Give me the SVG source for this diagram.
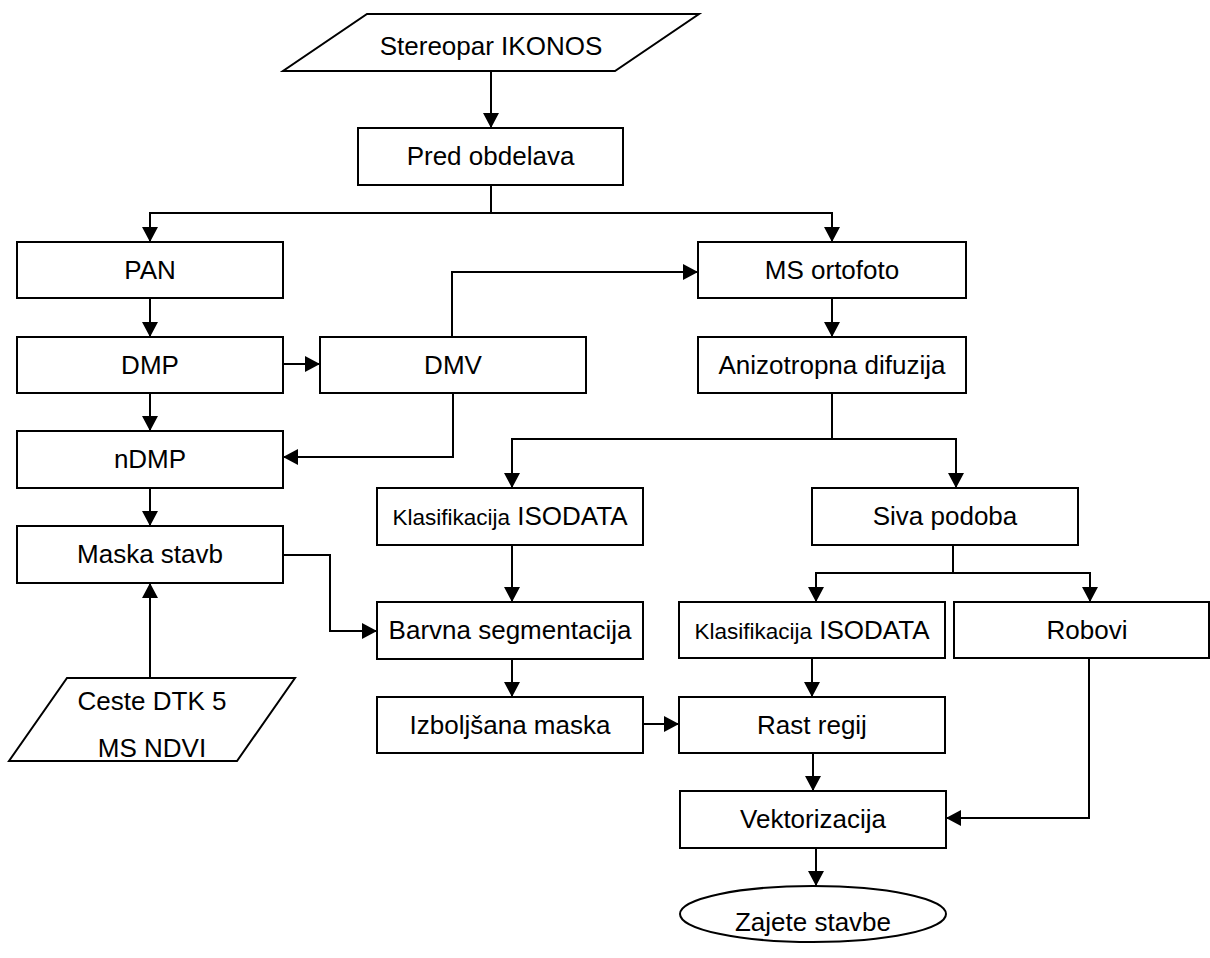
<svg xmlns="http://www.w3.org/2000/svg" width="1210" height="958" viewBox="0 0 1210 958">
<style>
.box{fill:#fff;stroke:#000;stroke-width:2}
.t{font-family:"Liberation Sans",Arial,sans-serif;font-size:26px;text-anchor:middle;fill:#000}
.s{font-size:22.5px}
.c{fill:none;stroke:#000;stroke-width:2}
</style>
<defs>
<marker id="ah" markerUnits="userSpaceOnUse" markerWidth="17" markerHeight="17" refX="15" refY="8" orient="auto">
<path d="M0,0 L15,8 L0,16 Z" fill="#000"/>
</marker>
</defs>
<rect width="1210" height="958" fill="#fff"/>
<g id="connectors">
<path class="c" marker-end="url(#ah)" d="M491,71 V128"/>
<path class="c" marker-end="url(#ah)" d="M491,185 V213 H150 V242"/>
<path class="c" marker-end="url(#ah)" d="M491,213 H832 V242"/>
<path class="c" marker-end="url(#ah)" d="M150,298 V337"/>
<path class="c" marker-end="url(#ah)" d="M150,393 V431"/>
<path class="c" marker-end="url(#ah)" d="M150,488 V526"/>
<path class="c" marker-end="url(#ah)" d="M283,364 H320"/>
<path class="c" marker-end="url(#ah)" d="M452,337 V272 H698"/>
<path class="c" marker-end="url(#ah)" d="M453,393 V457 H283"/>
<path class="c" marker-end="url(#ah)" d="M832,298 V337"/>
<path class="c" marker-end="url(#ah)" d="M832,393 V439 H512 V488"/>
<path class="c" marker-end="url(#ah)" d="M832,439 H956 V488"/>
<path class="c" marker-end="url(#ah)" d="M150,678 V583"/>
<path class="c" marker-end="url(#ah)" d="M283,555 H330 V631 H377"/>
<path class="c" marker-end="url(#ah)" d="M512,545 V602"/>
<path class="c" marker-end="url(#ah)" d="M512,659 V697"/>
<path class="c" marker-end="url(#ah)" d="M643,724 H679"/>
<path class="c" marker-end="url(#ah)" d="M953,545 V573 H816 V602"/>
<path class="c" marker-end="url(#ah)" d="M953,573 H1090 V602"/>
<path class="c" marker-end="url(#ah)" d="M812,658 V697"/>
<path class="c" marker-end="url(#ah)" d="M813,753 V791"/>
<path class="c" marker-end="url(#ah)" d="M1089,658 V818 H946"/>
<path class="c" marker-end="url(#ah)" d="M816,848 V886"/>
</g>
<g id="stereopar"><polygon class="box" points="367,14 699,14 615,71 283,71"/><text class="t" x="491" y="55">Stereopar IKONOS</text></g>
<g id="predobdelava"><rect class="box" x="358" y="128" width="265" height="57"/><text class="t" x="490.5" y="165">Pred obdelava</text></g>
<g id="pan"><rect class="box" x="17" y="242" width="266" height="56"/><text class="t" x="150" y="279">PAN</text></g>
<g id="dmp"><rect class="box" x="17" y="337" width="266" height="56"/><text class="t" x="150" y="374">DMP</text></g>
<g id="ndmp"><rect class="box" x="17" y="431" width="266" height="57"/><text class="t" x="150" y="468">nDMP</text></g>
<g id="maska"><rect class="box" x="17" y="526" width="266" height="57"/><text class="t" x="150" y="563">Maska stavb</text></g>
<g id="ceste"><polygon class="box" points="67,678 295,678 237,761 9,761"/><text class="t" x="152" y="710">Ceste DTK 5</text><text class="t" x="152" y="757">MS NDVI</text></g>
<g id="dmv"><rect class="box" x="320" y="337" width="266" height="56"/><text class="t" x="453" y="374">DMV</text></g>
<g id="msortofoto"><rect class="box" x="698" y="242" width="268" height="56"/><text class="t" x="832" y="279">MS ortofoto</text></g>
<g id="anizotropna"><rect class="box" x="698" y="337" width="268" height="56"/><text class="t" x="832" y="374">Anizotropna difuzija</text></g>
<g id="klas1"><rect class="box" x="377" y="488" width="266" height="57"/><text class="t" x="510" y="525"><tspan class="s">Klasifikacija</tspan> ISODATA</text></g>
<g id="barvna"><rect class="box" x="377" y="602" width="266" height="57"/><text class="t" x="510" y="639">Barvna segmentacija</text></g>
<g id="izboljsana"><rect class="box" x="377" y="697" width="266" height="56"/><text class="t" x="510" y="734">Izboljšana maska</text></g>
<g id="siva"><rect class="box" x="812" y="488" width="266" height="57"/><text class="t" x="945" y="525">Siva podoba</text></g>
<g id="klas2"><rect class="box" x="679" y="602" width="266" height="56"/><text class="t" x="812" y="639"><tspan class="s">Klasifikacija</tspan> ISODATA</text></g>
<g id="robovi"><rect class="box" x="954" y="602" width="255" height="56"/><text class="t" x="1087" y="639">Robovi</text></g>
<g id="rast"><rect class="box" x="679" y="697" width="266" height="56"/><text class="t" x="812" y="734">Rast regij</text></g>
<g id="vektorizacija"><rect class="box" x="680" y="791" width="266" height="57"/><text class="t" x="813" y="828">Vektorizacija</text></g>
<g id="zajete"><ellipse class="box" cx="813" cy="914" rx="133" ry="28"/><text class="t" x="813" y="931">Zajete stavbe</text></g>
</svg>
